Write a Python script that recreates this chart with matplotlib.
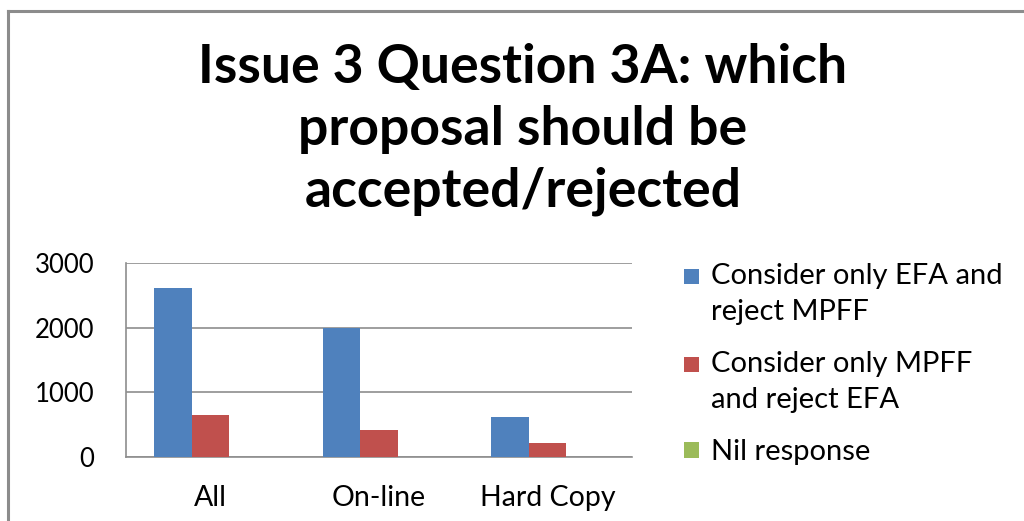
import matplotlib
matplotlib.use("Agg")
import matplotlib.pyplot as plt
import numpy as np
from matplotlib.patches import Rectangle
from matplotlib.legend_handler import HandlerPatch
from matplotlib.lines import Line2D

categories = ["All", "On-line", "Hard Copy"]
series_names = [
    "Consider only EFA and\nreject MPFF",
    "Consider only MPFF\nand reject EFA",
    "Nil response",
]
efa_only = [2620, 2000, 615]
mpff_only = [645, 425, 215]
nil_response = [0, 0, 0]
series_values = [efa_only, mpff_only, nil_response]
colors = ["#4F81BD", "#C0504D", "#9BBB59"]
y_ticks = [0, 1000, 2000, 3000]
title = "Issue 3 Question 3A: which\nproposal should be\naccepted/rejected"

plt.rcParams["font.family"] = ["Lato", "DejaVu Sans"]

W, H, DPI = 1024, 521, 100
fig = plt.figure(figsize=(W / DPI, H / DPI), dpi=DPI)

# chart frame (right and bottom edges fall outside the image)
frame_col = "#8C8C8C"
fig.add_artist(Line2D([7.5 / W, 1.0], [1 - 10.5 / H, 1 - 10.5 / H],
                      transform=fig.transFigure, color=frame_col, lw=2.2))
fig.add_artist(Line2D([7.5 / W, 7.5 / W], [0.0, 1 - 10.5 / H],
                      transform=fig.transFigure, color=frame_col, lw=2.2))

left, right, bottom, top = 126, 632, 457, 263
ax = fig.add_axes([left / W, 1 - bottom / H, (right - left) / W, (bottom - top) / H])

n_series = len(series_values)
x = np.arange(len(categories))
gap = 1.5
bar_w = 1.0 / (n_series + gap)
bars = []
for i, (vals, name, col) in enumerate(zip(series_values, series_names, colors)):
    offs = (i - (n_series - 1) / 2) * bar_w
    b = ax.bar(x + offs, vals, width=bar_w, color=col, label=name, zorder=3,
               linewidth=0)
    bars.append(b)

ax.set_xlim(-0.5, len(categories) - 0.5)
ax.set_ylim(0, 3000)
ax.set_yticks(y_ticks)
ax.set_xticks(x)
ax.set_xticklabels(categories)
ax.yaxis.grid(True, color="#8E8E8E", lw=1.2, zorder=0)
ax.set_axisbelow(True)
for s in ["top", "right"]:
    ax.spines[s].set_visible(False)
ax.spines["left"].set_color("#8E8E8E")
ax.spines["left"].set_linewidth(1.2)
ax.spines["bottom"].set_color("#8E8E8E")
ax.spines["bottom"].set_linewidth(1.2)
ax.tick_params(axis="both", length=0, colors="#000000")
ax.tick_params(axis="y", pad=23, labelsize=18.5)
ax.tick_params(axis="x", pad=20, labelsize=20.5)

# multi-line title: "baseline" anchors the last line
fig.text(523 / W, 1 - 207 / H, title, ha="center", va="baseline", fontsize=38.5,
         fontweight="bold", linespacing=1.32)


class TopSquare(HandlerPatch):
    """Square legend key aligned with the first line of a wrapped label."""

    def __init__(self, shift, **kw):
        super().__init__(**kw)
        self.shift = shift

    def create_artists(self, legend, orig_handle, xdescent, ydescent, width,
                       height, fontsize, trans):
        size = 11.0
        p = Rectangle((-xdescent + width - size, -ydescent + (height - size) / 2 + self.shift),
                      size, size, facecolor=orig_handle.get_facecolor(),
                      edgecolor="none", transform=trans)
        return [p]


handles = [b.patches[0] for b in bars]
handler_map = {
    handles[0]: TopSquare(12.6),
    handles[1]: TopSquare(12.6),
    handles[2]: TopSquare(0.0),
}
leg = fig.legend(handles, series_names, handler_map=handler_map,
                 loc="upper left", bbox_to_anchor=(683 / W, 1 - 263 / H),
                 frameon=False, fontsize=21, handlelength=0.55,
                 handletextpad=0.41, labelspacing=0.9, borderpad=0,
                 borderaxespad=0)
for t in leg.get_texts():
    t.set_linespacing(1.47)

fig.savefig("out.png", dpi=DPI, facecolor="white")
